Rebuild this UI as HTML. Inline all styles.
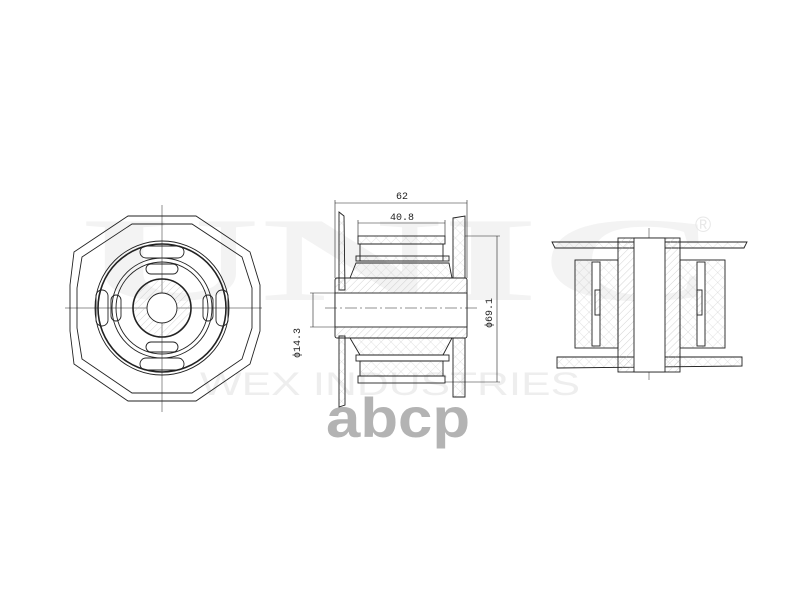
<!DOCTYPE html>
<html><head><style>body{margin:0;background:#fff}svg{display:block}</style></head><body>
<svg width="800" height="600" viewBox="0 0 800 600" xmlns="http://www.w3.org/2000/svg" font-family="Liberation Mono, monospace">
<defs>
<pattern id="h" width="5" height="5" patternUnits="userSpaceOnUse" patternTransform="rotate(45)"><line x1="0" y1="0" x2="0" y2="5" stroke="#aaa" stroke-width="0.5"/></pattern>
<pattern id="x" width="7" height="7" patternUnits="userSpaceOnUse" patternTransform="rotate(45)"><path d="M0 0V7M0 0H7" stroke="#c4c4c4" stroke-width="0.5"/></pattern>
</defs>
<g fill="#f3f3f3" font-family="Liberation Serif, serif" font-weight="bold">
<text x="80" y="300" font-size="120" textLength="640" lengthAdjust="spacingAndGlyphs">UNIC</text>
</g>
<text x="200" y="395" font-family="Liberation Sans, sans-serif" font-size="32" fill="#eeeeee" textLength="380" lengthAdjust="spacingAndGlyphs">WEX INDUSTRIES</text>
<text x="695" y="232" font-family="Liberation Sans, sans-serif" font-size="22" fill="#e8e8e8">®</text>
<text x="326" y="437" font-family="Liberation Sans, sans-serif" font-size="56" font-weight="bold" fill="#b3b3b3" textLength="144" lengthAdjust="spacingAndGlyphs">abcp</text>

<g fill="none" stroke="#222" stroke-width="0.9">
<line x1="162" y1="205" x2="162" y2="412" stroke-width="0.5"/>
<line x1="65" y1="308" x2="262" y2="308" stroke-width="0.5"/>
<polygon points="128,216 196,216 250,252 260,285 260,331 250,364 196,401 128,401 74,364 70,331 70,285 74,252"/>
<polygon points="132,224 192,224 242,257 252,288 252,328 242,359 192,393 132,393 82,359 77,328 77,288 82,257"/>
<circle cx="162" cy="308" r="67"/><circle cx="162" cy="308" r="64" stroke-width="1.6"/>
<circle cx="162" cy="308" r="50"/><circle cx="162" cy="308" r="46"/>
<circle cx="162" cy="308" r="29" fill="url(#h)" stroke-width="1.6"/>
<circle cx="162" cy="308" r="15" fill="#fff"/>
<rect x="140" y="246" width="44" height="12" rx="6"/><rect x="146" y="264" width="32" height="10" rx="5"/>
<rect x="140" y="358" width="44" height="12" rx="6"/><rect x="146" y="342" width="32" height="10" rx="5"/>
<rect x="96" y="290" width="12" height="36" rx="6"/><rect x="111" y="295" width="10" height="26" rx="5"/>
<rect x="216" y="290" width="12" height="36" rx="6"/><rect x="203" y="295" width="10" height="26" rx="5"/>
<path d="M339 212 L344 216 L345 290 L339 290Z M339 336 L345 336 L345 405 L339 407Z" fill="url(#x)"/>
<path d="M453 218 L465 216 L465 278 L453 278Z M453 338 L465 338 L465 397 L453 397Z" fill="url(#x)"/>
<rect x="335" y="278" width="132" height="60" fill="url(#h)" rx="2"/>
<rect x="335" y="293" width="132" height="34" fill="#fff"/>
<rect x="358" y="236" width="87" height="8" fill="url(#x)"/>
<rect x="360" y="244" width="83" height="17"/>
<rect x="356" y="256" width="93" height="5" fill="url(#x)"/>
<path d="M350 278 L356 263 L449 263 L452 278Z" fill="url(#x)"/>
<path d="M350 338 L360 355 L443 355 L452 338Z" fill="url(#x)"/>
<rect x="356" y="355" width="93" height="6"/>
<rect x="360" y="361" width="83" height="15" fill="url(#x)"/>
<rect x="358" y="376" width="87" height="7"/>
<g stroke-width="0.6">
<line x1="335" y1="203" x2="467" y2="203"/><line x1="335" y1="200" x2="335" y2="278"/><line x1="467" y1="200" x2="467" y2="278"/>
<line x1="358" y1="223" x2="445" y2="223"/><line x1="358" y1="220" x2="358" y2="236"/><line x1="445" y1="220" x2="445" y2="236"/>
<line x1="497" y1="236" x2="497" y2="382"/><line x1="465" y1="236" x2="500" y2="236"/><line x1="445" y1="382" x2="500" y2="382"/>
<line x1="313" y1="293" x2="313" y2="327"/><line x1="310" y1="293" x2="335" y2="293"/><line x1="310" y1="327" x2="335" y2="327"/>
<line x1="325" y1="308" x2="480" y2="308" stroke-dasharray="12 3 2 3"/>
</g>
<line x1="649" y1="228" x2="649" y2="382" stroke-width="0.5" stroke-dasharray="12 3 2 3"/>
<path d="M552 242 L747 242 L744 248 L555 248Z" fill="url(#x)"/>
<path d="M557 357 L742 357 L742 366 L557 368Z" fill="url(#x)"/>
<rect x="575" y="260" width="43" height="88" fill="url(#x)"/>
<rect x="680" y="260" width="45" height="88" fill="url(#x)"/>
<rect x="592" y="262" width="8" height="84" fill="#fff"/><rect x="697" y="262" width="8" height="84" fill="#fff"/>
<rect x="595" y="290" width="5" height="25" fill="url(#h)"/><rect x="697" y="290" width="5" height="25" fill="url(#h)"/>
<rect x="618" y="238" width="62" height="134" fill="url(#h)"/>
<rect x="634" y="238" width="31" height="134" fill="#fff"/>
</g>
<g font-size="10" fill="#222">
<text x="396" y="199">62</text>
<text x="390" y="220">40.8</text>
<text transform="translate(492,328) rotate(-90)">ϕ69.1</text>
<text transform="translate(300,358) rotate(-90)">ϕ14.3</text>
</g>
</svg>
</body></html>
